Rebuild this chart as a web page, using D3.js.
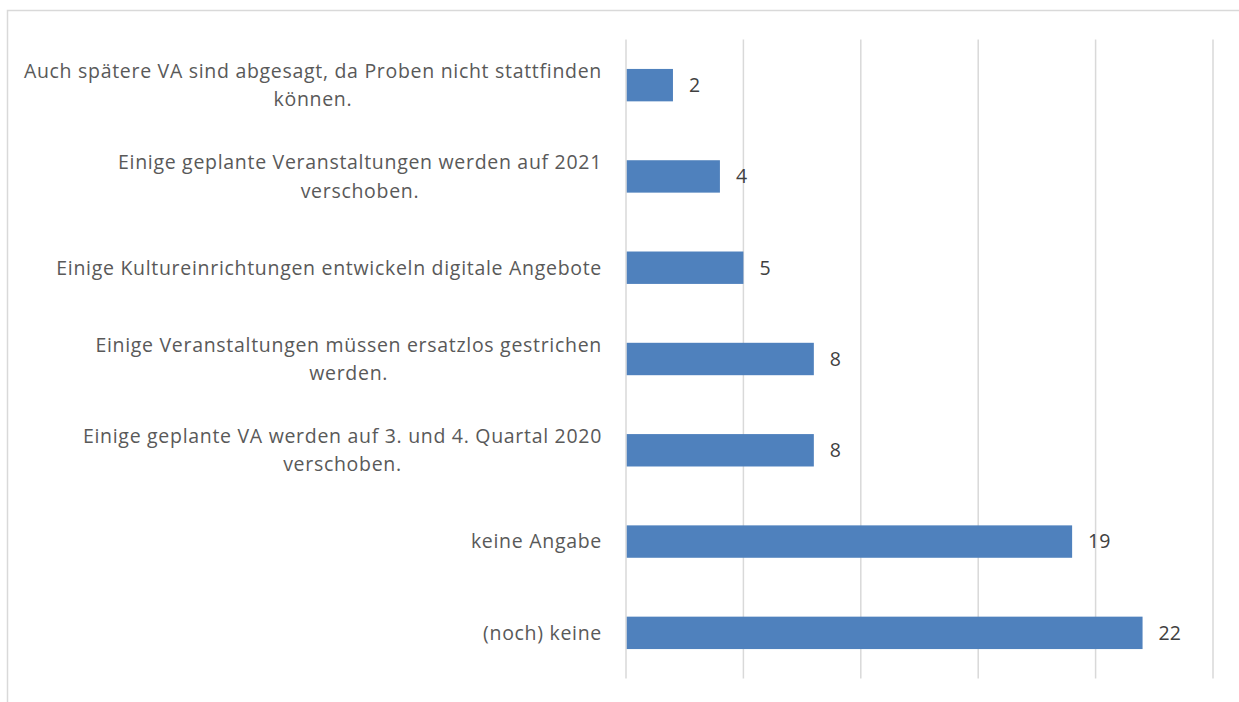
<!DOCTYPE html>
<html>
<head>
<meta charset="utf-8">
<script src="https://cdn.jsdelivr.net/npm/d3@7"></script>
<style>
  body { margin: 0; background: #fff; }
  svg { display: block; }
</style>
</head>
<body>
<div id="chart"></div>
<script>
// categories top to bottom, wrapped the way the original shows them
var categories = [
  "Auch spätere VA sind abgesagt, da Proben nicht stattfinden\nkönnen.",
  "Einige geplante Veranstaltungen werden auf 2021\nverschoben.",
  "Einige Kultureinrichtungen entwickeln digitale Angebote",
  "Einige Veranstaltungen müssen ersatzlos gestrichen\nwerden.",
  "Einige geplante VA werden auf 3. und 4. Quartal 2020\nverschoben.",
  "keine Angabe",
  "(noch) keine"
];
var values = [2, 4, 5, 8, 8, 19, 22];
var gridTicks = [0, 5, 10, 15, 20, 25];

var width = 1239, height = 702;
var plotLeft = 626, plotRight = 1213, plotTop = 39.5, plotBottom = 678.5;

var svg = d3.select("#chart")
            .append("svg")
            .attr("width", width)
            .attr("height", height);

// chart frame (runs off the right and bottom edge like the source)
svg.append("rect")
   .attr("x", 7.5).attr("y", 10.5)
   .attr("width", 1400).attr("height", 900)
   .attr("fill", "none")
   .attr("stroke", "#d9d9d9")
   .attr("stroke-width", 1.5);

var x = d3.scaleLinear().domain([0, 25]).range([plotLeft, plotRight]);
var y = d3.scaleBand().domain(categories).range([plotTop, plotBottom])
          .paddingInner(0.645).paddingOuter(0.3225);

// vertical gridlines
svg.append("g").selectAll("line")
   .data(gridTicks)
   .enter()
   .append("line")
   .attr("x1", function(d) { return x(d); })
   .attr("x2", function(d) { return x(d); })
   .attr("y1", plotTop)
   .attr("y2", plotBottom)
   .attr("stroke", "#d9d9d9")
   .attr("stroke-width", 1.5);

// bars
svg.append("g").selectAll("rect")
   .data(values)
   .enter()
   .append("rect")
   .attr("x", x(0) + 0.75)
   .attr("y", function(d, i) { return y(categories[i]); })
   .attr("width", function(d) { return x(d) - x(0) - 0.75; })
   .attr("height", y.bandwidth())
   .attr("fill", "#4f81bd");

// value labels
svg.append("g").selectAll("text")
   .data(values)
   .enter()
   .append("text")
   .attr("x", function(d) { return x(d) + 16; })
   .attr("y", function(d, i) { return y(categories[i]) + y.bandwidth() / 2; })
   .attr("dy", "0.35em")
   .style("font-family", "'Open Sans', sans-serif")
   .style("font-size", "19.5px")
   .style("fill", "#404040")
   .text(function(d) { return d; });

// category labels: block right aligned, lines centred on each other
var lineH = 28.5;
var labels = svg.append("g").selectAll("text")
   .data(categories)
   .enter()
   .append("text")
   .style("font-family", "'Open Sans', sans-serif")
   .style("font-size", "19.5px")
   .style("letter-spacing", "0.7px")
   .style("fill", "#595959")
   .attr("text-anchor", "middle");

labels.each(function(d) {
  var t = d3.select(this);
  var lines = d.split("\n");
  var cy = y(d) + y.bandwidth() / 2;
  lines.forEach(function(ln, k) {
    t.append("tspan")
     .attr("y", cy + (k - (lines.length - 1) / 2) * lineH)
     .attr("dy", "0.35em")
     .text(ln);
  });
  var maxW = 0;
  t.selectAll("tspan").each(function() {
    maxW = Math.max(maxW, this.getComputedTextLength());
  });
  t.selectAll("tspan").attr("x", 602 - maxW / 2);
});
</script>
</body>
</html>
